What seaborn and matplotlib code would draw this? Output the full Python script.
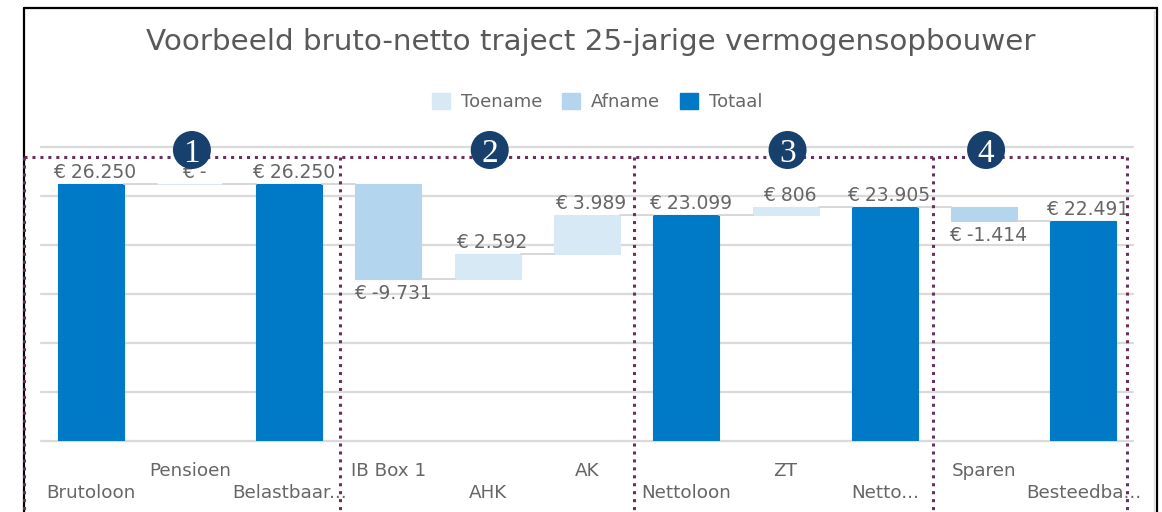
import numpy as np
import pandas as pd
import matplotlib
matplotlib.use('Agg')
import matplotlib.pyplot as plt
import seaborn as sns
from matplotlib.patches import Patch, Circle
from matplotlib.lines import Line2D

# ── data ──────────────────────────────────────────────
categories = ['Brutoloon', 'Pensioen', 'Belastbaar...', 'IB Box 1', 'AHK', 'AK',
              'Nettoloon', 'ZT', 'Netto...', 'Sparen', 'Besteedba...']
values = [26250, 0, 26250, -9731, 2592, 3989, 23099, 806, 23905, -1414, 22491]
kinds = ['Totaal', 'Toename', 'Totaal', 'Afname', 'Toename', 'Toename',
         'Totaal', 'Toename', 'Totaal', 'Afname', 'Totaal']
value_labels = ['€ 26.250', '€ -', '€ 26.250', '€ -9.731', '€ 2.592', '€ 3.989',
                '€ 23.099', '€ 806', '€ 23.905', '€ -1.414', '€ 22.491']
section_numbers = ['1', '2', '3', '4']
section_circle_cat = [1, 4, 7, 9]   # category above which the badge sits

colors = {'Toename': '#d8e9f6', 'Afname': '#b3d5ed', 'Totaal': '#0079c7'}
TEXT = '#666666'

# running totals -> floating bars
starts, ends = [], []
level = 0
for v, k in zip(values, kinds):
    if k == 'Totaal':
        starts.append(0); ends.append(v); level = v
    else:
        starts.append(level); ends.append(level + v); level += v

df = pd.DataFrame({'cat': categories, 'kind': kinds,
                   'low': np.minimum(starts, ends),
                   'height': np.abs(np.array(ends) - np.array(starts))})

# ── figure ────────────────────────────────────────────
sns.set_theme(style='white')
plt.rcParams['font.family'] = ['DejaVu Sans']

W, H = 1162, 512
fig = plt.figure(figsize=(W / 100, H / 100), dpi=100)
ax = fig.add_axes([41 / W, (H - 441) / H, (1133 - 41) / W, 294 / H])

for k in ['Toename', 'Afname', 'Totaal']:
    sub = df[df['kind'] == k]
    sns.barplot(data=sub, x='cat', y='height', order=categories,
                bottom=sub['low'].values, color=colors[k], saturation=1,
                width=0.665, edgecolor=colors[k], linewidth=0.8, ax=ax)

ax.set_xlim(-0.5, len(categories) - 0.5)
ax.set_ylim(0, 30000)
ax.set_yticks(np.arange(0, 30001, 5000))
ax.yaxis.grid(True, color='#dadada', linewidth=1.6)
ax.set_axisbelow(True)
for gl in ax.get_ygridlines():
    gl.set_clip_on(False)
ax.tick_params(left=False, bottom=False, labelleft=False, labelbottom=False)
ax.set_xlabel('')
ax.set_ylabel('')
for s in ax.spines.values():
    s.set_visible(False)

# connectors between bars
hw = 0.665 / 2
for i in range(len(categories) - 1):
    lev = ends[i]
    ax.plot([i + hw, i + 1 - hw], [lev, lev], color='#d4d4d4', lw=1.3, zorder=1)

# value labels
for i, (lab, k) in enumerate(zip(value_labels, kinds)):
    top = max(starts[i], ends[i])
    bot = min(starts[i], ends[i])
    if k == 'Afname':
        ax.annotate(lab, (i, bot), xytext=(4, -5), textcoords='offset pixels',
                    ha='center', va='top', fontsize=13.5, color=TEXT)
    else:
        ax.annotate(lab, (i, top), xytext=(4, 2), textcoords='offset pixels',
                    ha='center', va='bottom', fontsize=13.5, color=TEXT)

# staggered category labels
xt = ax.get_xaxis_transform()
for i, c in enumerate(categories):
    y = -0.102 if i % 2 else -0.177
    ax.text(i, y, c, transform=xt, ha='center', va='center', fontsize=13.2, color=TEXT)

# title and legend
fig.text(591 / W, (H - 42) / H, 'Voorbeeld bruto-netto traject 25-jarige vermogensopbouwer',
         ha='center', va='center', fontsize=21.2, color='#595959')
handles = [Patch(facecolor=colors[k], edgecolor=colors[k], label=k)
           for k in ['Toename', 'Afname', 'Totaal']]
fig.legend(handles=handles, loc='center', bbox_to_anchor=(597 / W, (H - 102) / H),
           ncol=3, frameon=False, fontsize=13, handlelength=1.0, handleheight=1.0,
           handletextpad=0.6, columnspacing=1.1, labelcolor=TEXT)

# outer frame
fx = lambda x: x / W
fy = lambda y: (H - y) / H
frame = dict(color='black', lw=1.6)
fig.add_artist(Line2D([fx(24), fx(24)], [fy(8), 0], **frame))
fig.add_artist(Line2D([fx(24), fx(1157)], [fy(8), fy(8)], **frame))
fig.add_artist(Line2D([fx(1157), fx(1157)], [fy(8), 0], **frame))
fig.add_artist(Line2D([fx(1154), fx(1154)], [fy(11), 0], color='#dddddd', lw=1))

# dotted section boxes
dot = dict(color='#6b2f5b', lw=2.2, linestyle=(0, (1, 1.6)))
fig.add_artist(Line2D([fx(24), fx(1127)], [fy(157), fy(157)], **dot))
for xb in [24, 340, 634, 933, 1127]:
    fig.add_artist(Line2D([fx(xb), fx(xb)], [fy(157), 0], **dot))

# numbered badges
for num, ci in zip(section_numbers, section_circle_cat):
    px = ax.transData.transform((ci, 0))[0]
    cx = px + 2
    fig.add_artist(Circle((cx / 100, (H - 150) / 100), 0.19, transform=fig.dpi_scale_trans,
                          facecolor='#17406d', edgecolor='none', zorder=10))
    fig.text(cx / W, (H - 150) / H, num, ha='center', va='center_baseline', fontsize=24,
             color='white', family='Liberation Serif', zorder=11)

fig.savefig('out.png', dpi=100)
